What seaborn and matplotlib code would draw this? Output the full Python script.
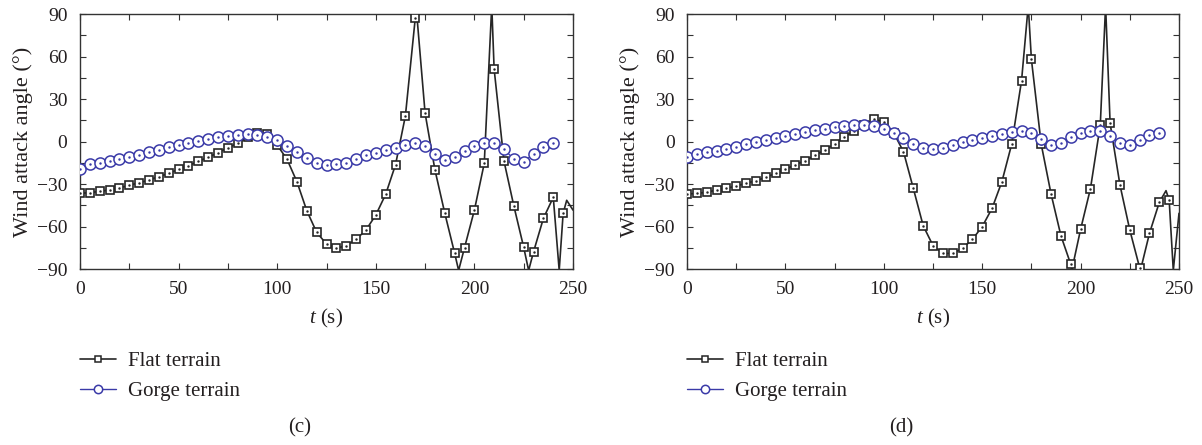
import numpy as np
import pandas as pd
import matplotlib
matplotlib.use("Agg")
import matplotlib.pyplot as plt
from matplotlib.lines import Line2D
from matplotlib.ticker import MultipleLocator
import seaborn as sns

# ---------------- data ----------------
t_flat = list(range(0, 250, 5))        # 0..245
t_gorge = list(range(0, 245, 5))       # 0..240

flat_c = [-36.6, -36.1, -35.2, -34.2, -32.8, -30.9, -29.1, -27.2, -24.8, -22.5,
          -19.6, -17.1, -14.0, -11.2, -7.9, -4.4, -1.3, 2.9, 5.8, 5.5,
          -2.5, -12.6, -28.4, -48.8, -64.1, -72.4, -75.4, -73.5, -69.1, -62.5,
          -51.9, -37.3, -16.4, 18.0, 86.9, 19.9, -20.1, -50.7, -79.0, -74.9,
          -48.4, -15.4, 51.2, -13.8, -45.5, -74.7, -77.8, -54.2, -39.4, -50.7]
flat_c_extra_t = [170.4, 192.0, 208.8, 227.5, 243.0, 246.8, 250.0]
flat_c_extra_v = [96.0, -91.0, 96.0, -91.0, -91.0, -41.5, -48.4]

gorge_c = [-19.6, -15.9, -14.9, -14.0, -12.6, -10.7, -9.5, -7.6, -6.0, -4.1,
           -2.5, -0.8, 0.4, 1.5, 2.9, 3.9, 4.8, 5.0, 4.6, 2.9,
           1.0, -2.9, -7.6, -11.6, -15.4, -16.8, -16.1, -14.9, -12.4, -9.5,
           -7.9, -6.0, -4.4, -2.5, -1.3, -3.2, -8.8, -13.1, -10.7, -6.7,
           -2.9, -0.8, -0.8, -5.5, -12.4, -14.2, -8.8, -4.1, -1.3]

flat_d = [-37.1, -36.6, -35.9, -34.2, -33.1, -31.4, -29.5, -27.7, -25.3, -22.5,
          -19.6, -16.4, -13.5, -9.8, -6.0, -1.8, 3.4, 7.4, 11.5, 15.6,
          14.0, 6.2, -7.2, -33.1, -59.4, -73.5, -79.0, -79.0, -75.4, -69.1,
          -60.1, -47.2, -28.4, -1.8, 43.0, 58.0, -2.0, -37.1, -66.5, -86.7,
          -62.0, -33.3, 11.6, 12.8, -30.7, -62.5, -89.1, -64.8, -42.9, -41.3]
flat_d_extra_t = [173.4, 195.5, 212.7, 230.4, 243.4, 247.1, 250.0]
flat_d_extra_v = [96.0, -91.0, 96.0, -91.0, -34.7, -91.0, -50.7]

gorge_d = [-11.2, -8.8, -7.6, -6.5, -5.1, -3.6, -2.0, -0.6, 1.1, 2.7,
           4.1, 5.5, 6.7, 7.9, 9.1, 10.2, 10.9, 11.4, 11.6, 11.2,
           8.6, 5.8, 2.2, -1.8, -4.4, -5.5, -4.4, -2.5, -0.6, 1.1,
           2.7, 3.9, 5.3, 6.9, 7.4, 5.8, 1.5, -2.5, -0.8, 2.9,
           5.8, 7.6, 7.4, 3.9, -0.8, -2.5, 1.1, 4.6, 6.2]

labels = ["Flat terrain", "Gorge terrain"]
panel_tags = ["(c)", "(d)"]
x_ticks = [0, 50, 100, 150, 200, 250]
y_ticks = [-90, -60, -30, 0, 30, 60, 90]

# ---------------- style ----------------
sns.set_style("ticks")
plt.rcParams["font.family"] = ["Liberation Serif", "DejaVu Serif"]
plt.rcParams["mathtext.fontset"] = "custom"
plt.rcParams["mathtext.it"] = "Liberation Serif:italic"
plt.rcParams["mathtext.rm"] = "Liberation Serif"

FLAT_COL = "#262626"
GORGE_COL = "#3a3aa8"
TXT = "#231f20"

fig = plt.figure(figsize=(12.02, 4.45), dpi=100)
W, H = 1202, 445
ax_specs = [(80, 573), (687, 1179)]
top_px, bot_px = 14, 269

panels = [
    (flat_c, flat_c_extra_t, flat_c_extra_v, gorge_c),
    (flat_d, flat_d_extra_t, flat_d_extra_v, gorge_d),
]

for i, ((xl, xr), (fv, et, ev, gv)) in enumerate(zip(ax_specs, panels)):
    ax = fig.add_axes([xl / W, 1 - bot_px / H, (xr - xl) / W, (bot_px - top_px) / H])
    line_df = pd.DataFrame({"t": list(t_flat) + et, "v": list(fv) + ev}).sort_values("t")
    sns.lineplot(data=line_df, x="t", y="v", color=FLAT_COL, lw=1.2, ax=ax,
                 sort=True, estimator=None)
    sns.lineplot(x=t_gorge, y=gv, color=GORGE_COL, lw=0.9, ax=ax, estimator=None)
    # flat markers
    ax.plot(t_flat, fv, ls="none", marker="s", ms=6.0, mfc="white", mec=FLAT_COL,
            mew=1.2, zorder=4)
    ax.plot(t_flat, fv, ls="none", marker=".", ms=1.5, color=FLAT_COL, zorder=5)
    # gorge markers
    ax.plot(t_gorge, gv, ls="none", marker="o", ms=8.0, mfc="white", mec=GORGE_COL,
            mew=1.1, zorder=6)
    ax.plot(t_gorge, gv, ls="none", marker=".", ms=1.5, color=GORGE_COL, zorder=7)

    ax.set_xlim(0, 250)
    ax.set_ylim(-90, 90)
    ax.set_xticks(x_ticks)
    ax.set_yticks(y_ticks)
    ax.set_yticklabels([("\u2212" + str(abs(v))) if v < 0 else str(v) for v in y_ticks])
    ax.xaxis.set_minor_locator(MultipleLocator(25))
    ax.yaxis.set_minor_locator(MultipleLocator(15))
    ax.tick_params(which="both", direction="in", top=True, right=True,
                   colors="#333333", labelcolor=TXT, labelsize=14, width=0.8)
    ax.tick_params(which="major", length=4.5, pad=9)
    ax.tick_params(which="minor", length=4.5)
    for s in ax.spines.values():
        s.set_linewidth(1.0)
        s.set_color("#333333")
    ax.set_xlabel(r"$t$ (s)", fontsize=15, color=TXT, labelpad=6)
    ax.set_ylabel("Wind attack angle (°)", fontsize=16, color=TXT, labelpad=3)

    handles = [
        Line2D([], [], color=FLAT_COL, lw=1.2, marker="s", ms=5, mfc="white",
               mec=FLAT_COL, mew=1.1),
        Line2D([], [], color=GORGE_COL, lw=1.0, marker="o", ms=6, mfc="white",
               mec=GORGE_COL, mew=1.1),
    ]
    fig.legend(handles, labels, loc="center left",
               bbox_to_anchor=(xl / W, 1 - 376.5 / H), frameon=False,
               fontsize=15, handlelength=1.75, handletextpad=0.55,
               labelspacing=0.48, borderpad=0, borderaxespad=0,
               labelcolor=TXT)
    fig.text((i * 601 + 300) / W, 1 - 428 / H, panel_tags[i], ha="center",
             va="center", fontsize=15, color=TXT)

fig.savefig("out.png", dpi=100)
